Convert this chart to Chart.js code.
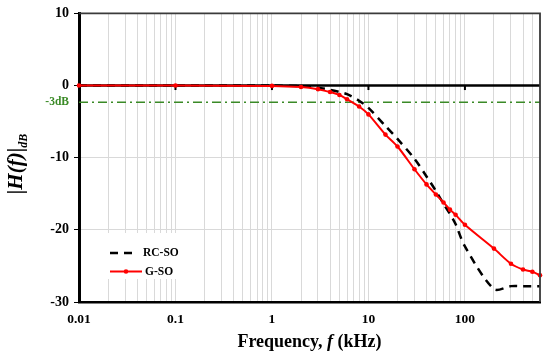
<!DOCTYPE html>
<html><head><meta charset="utf-8">
<script src="https://cdn.jsdelivr.net/npm/chart.js@4.4.1/dist/chart.umd.min.js"></script>
<style>html,body{margin:0;padding:0;background:#fff;}#wrap{width:550px;height:361px;}</style>
</head><body><div id="wrap"><canvas id="c" width="550" height="361"></canvas></div>
<script>
// ---- data ----
const seriesNames = ['RC-SO', 'G-SO'];
const rcFreq = [0.01, 0.1, 1, 2, 3, 4, 5, 6, 8, 10, 15, 20, 30, 40, 50, 60, 70, 80, 100, 200, 300, 400, 500, 600];
const rcGain = [0, 0, 0, -0.1, -0.3, -0.6, -0.9, -1.2, -2.1, -3.1, -5.6, -7.4, -10.15, -12.6, -14.6, -16.4, -17.8, -19.2, -22.3, -28.2, -27.8, -27.8, -27.8, -27.8];
const gsoFreq = [0.01, 0.1, 1, 2, 3, 4, 5, 6, 8, 10, 15, 20, 30, 40, 50, 60, 70, 80, 100, 200, 300, 400, 500, 600];
const gsoGain = [0, 0, -0.05, -0.2, -0.5, -0.9, -1.3, -1.9, -2.9, -4.0, -6.8, -8.45, -11.6, -13.7, -15.1, -16.2, -17.2, -17.9, -19.3, -22.6, -24.7, -25.5, -25.8, -26.3];
const refLabel = '-3dB';
const refLevel = -2.3;
const refFreq = [0.01, 600];
const xMin = 0.01, xMax = 600;
const xMajorTicks = [0.01, 0.1, 1, 10, 100];
const xTickLabels = ['0.01', '0.1', '1', '10', '100'];
const yTicks = [-30, -20, -10, 0, 10];
const xTitleParts = ['Frequency, ', 'f', ' (kHz)'];
const yTitleMain = '|H(f)|';
const yTitleSub = 'dB';

// ---- styles ----
const SERIF = "'Liberation Serif','Times New Roman',serif";
const GREEN = '#3a8a26';
const RED = '#ff0000';

const xGridValues = [];
xMajorTicks.forEach(d => { for (let m = 1; m <= 9; m++) { const v = m === 1 ? d : d * m; if (v <= xMax) xGridValues.push(v); } });

const decor = {
  id: 'decor',
  beforeDatasetsDraw(chart) {
    const {ctx, chartArea: a, scales: {x, y}} = chart;
    const y0 = y.getPixelForValue(0);
    ctx.save();
    ctx.strokeStyle = '#000';
    ctx.lineWidth = 2.5;
    ctx.beginPath(); ctx.moveTo(a.left, y0); ctx.lineTo(a.right, y0); ctx.stroke();
    ctx.lineWidth = 2;
    xMajorTicks.forEach(v => {
      if (v <= xMin) return;
      const px = x.getPixelForValue(v);
      ctx.beginPath(); ctx.moveTo(px, y0); ctx.lineTo(px, y0 + 4.5); ctx.stroke();
    });
    // legend background
    ctx.fillStyle = '#fff';
    ctx.fillRect(a.left + 21, a.bottom - 69, 85, 46);
    ctx.restore();
  },
  afterDraw(chart) {
    const {ctx, chartArea: a} = chart;
    ctx.save();
    // top & right border
    ctx.strokeStyle = '#3a3a3a';
    ctx.lineWidth = 1.8;
    ctx.beginPath();
    ctx.moveTo(a.left, a.top); ctx.lineTo(a.right, a.top); ctx.lineTo(a.right, a.bottom);
    ctx.stroke();
    // legend
    const ds = chart.data.datasets;
    const lx = a.left + 31, ly1 = a.bottom - 49, ly2 = a.bottom - 30.5;
    ctx.font = 'bold 11.5px ' + SERIF;
    ctx.textBaseline = 'middle';
    ctx.fillStyle = '#000';
    ctx.strokeStyle = ds[0].borderColor; ctx.lineWidth = ds[0].borderWidth;
    ctx.setLineDash(ds[0].borderDash);
    ctx.beginPath(); ctx.moveTo(lx, ly1); ctx.lineTo(lx + 22, ly1); ctx.stroke();
    ctx.setLineDash([]);
    ctx.fillText(ds[0].label, lx + 33, ly1 + 0.5);
    ctx.strokeStyle = ds[1].borderColor; ctx.lineWidth = ds[1].borderWidth;
    ctx.beginPath(); ctx.moveTo(lx, ly2); ctx.lineTo(lx + 32, ly2); ctx.stroke();
    ctx.fillStyle = ds[1].pointBackgroundColor;
    ctx.beginPath(); ctx.arc(lx + 16, ly2, 2.3, 0, Math.PI * 2); ctx.fill();
    ctx.fillStyle = '#000';
    ctx.fillText(ds[1].label, lx + 35, ly2 + 0.5);
    // x title
    const fonts = ['bold 18px ' + SERIF, 'italic bold 18px ' + SERIF, 'bold 18px ' + SERIF];
    let total = 0;
    const widths = xTitleParts.map((t, i) => { ctx.font = fonts[i]; const w = ctx.measureText(t).width; total += w; return w; });
    let cx = (a.left + a.right) / 2 - total / 2;
    ctx.textBaseline = 'alphabetic';
    ctx.textAlign = 'left';
    xTitleParts.forEach((t, i) => { ctx.font = fonts[i]; ctx.fillText(t, cx, 347); cx += widths[i]; });
    // y title
    ctx.translate(17, 164);
    ctx.rotate(-Math.PI / 2);
    ctx.font = 'italic bold 21px ' + SERIF;
    const w1 = ctx.measureText(yTitleMain).width;
    ctx.font = 'italic bold 12px ' + SERIF;
    const w2 = ctx.measureText(yTitleSub).width;
    const sx = -(w1 + w2) / 2;
    ctx.font = 'italic bold 21px ' + SERIF;
    ctx.textBaseline = 'middle';
    ctx.fillText(yTitleMain, sx, 0);
    ctx.font = 'italic bold 12px ' + SERIF;
    ctx.fillText(yTitleSub, sx + w1, 7);
    ctx.restore();
  }
};

new Chart(document.getElementById('c'), {
  type: 'line',
  data: {
    datasets: [
      {
        label: seriesNames[0],
        data: rcFreq.map((f, i) => ({x: f, y: rcGain[i]})),
        borderColor: '#000', borderWidth: 2.5, borderDash: [8, 6],
        pointRadius: 0, tension: 0.3, order: 1, fill: false
      },
      {
        label: seriesNames[1],
        data: gsoFreq.map((f, i) => ({x: f, y: gsoGain[i]})),
        borderColor: RED, borderWidth: 2, pointRadius: 2.3, pointBackgroundColor: RED,
        pointBorderWidth: 0, tension: 0.3, order: 0, fill: false, clip: false
      },
      {
        label: refLabel,
        data: refFreq.map(f => ({x: f, y: refLevel})),
        borderColor: GREEN, borderWidth: 1.5, borderDash: [9, 4, 2, 4],
        pointRadius: 0, order: 2, fill: false
      }
    ]
  },
  options: {
    responsive: false,
    animation: false,
    devicePixelRatio: 1,
    layout: {padding: {top: 12, right: 10, left: 0, bottom: 0}},
    plugins: {legend: {display: false}, tooltip: {enabled: false}},
    scales: {
      x: {
        type: 'logarithmic', min: xMin, max: xMax,
        afterBuildTicks: s => { s.ticks = xGridValues.map(v => ({value: v})); },
        afterFit: s => { s.height = 59; },
        ticks: {
          autoSkip: false, maxRotation: 0, padding: 9, color: '#000',
          font: {family: SERIF, size: 13.5, weight: 'bold'},
          callback: v => { const k = xMajorTicks.indexOf(v); return k >= 0 ? xTickLabels[k] : ''; }
        },
        grid: {color: '#d9d9d9', lineWidth: 1, drawTicks: false},
        border: {color: '#000', width: 2.5}
      },
      y: {
        type: 'linear', min: -30, max: 10,
        afterBuildTicks: s => { s.ticks = yTicks.concat([refLevel]).sort((p, q) => p - q).map(v => ({value: v})); },
        afterFit: s => { s.width = 79; },
        ticks: {
          autoSkip: false, padding: 5,
          color: c => (c.tick && c.tick.value === refLevel) ? GREEN : '#000',
          font: c => (c.tick && c.tick.value === refLevel) ? {family: SERIF, size: 11.5, weight: 'bold'} : {family: SERIF, size: 14, weight: 'bold'},
          callback: v => v === refLevel ? refLabel : String(v)
        },
        grid: {
          color: c => (c.tick && c.tick.value === refLevel) ? 'rgba(0,0,0,0)' : '#d9d9d9',
          tickColor: c => (c.tick && c.tick.value === refLevel) ? 'rgba(0,0,0,0)' : '#000',
          tickLength: 5, lineWidth: 1
        },
        border: {color: '#000', width: 3}
      }
    }
  },
  plugins: [decor]
});
</script>
</body></html>
